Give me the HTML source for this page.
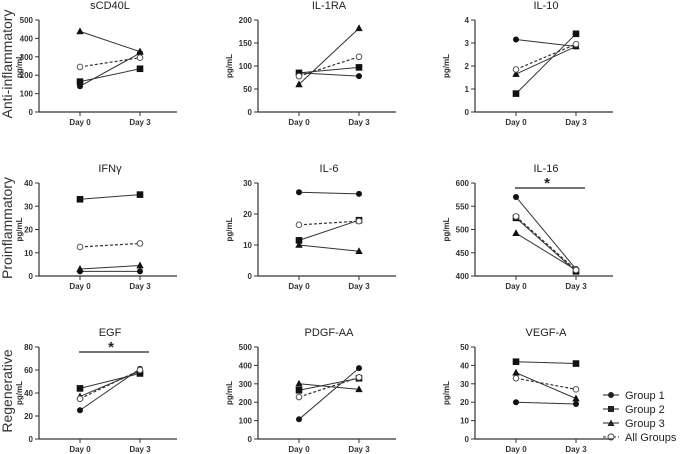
<!DOCTYPE html>
<html><head><meta charset="utf-8"><style>
html,body{margin:0;padding:0;background:#fff;}
svg{display:block;font-family:"Liberation Sans",Arial,sans-serif;}
</style></head><body>
<svg id="s" width="685" height="454" viewBox="0 0 685 454" xmlns="http://www.w3.org/2000/svg">
<g font-size="14" fill="#333">
<text transform="translate(12,64) rotate(-90)" text-anchor="middle">Anti-inflammatory</text>
<text transform="translate(12,228) rotate(-90)" text-anchor="middle">Proinflammatory</text>
<text transform="translate(12,391) rotate(-90)" text-anchor="middle">Regenerative</text>
</g>
<g font-size="11" fill="#222">
<line x1="603" y1="395" x2="619" y2="395" stroke="#222"/><circle cx="611" cy="395" r="3" fill="#222"/><text x="625" y="399">Group 1</text>
<line x1="603" y1="409" x2="619" y2="409" stroke="#222"/><rect x="608" y="406" width="6" height="6" fill="#222"/><text x="625" y="413">Group 2</text>
<line x1="603" y1="423" x2="619" y2="423" stroke="#222"/><polygon points="611,419.5 614.5,426 607.5,426" fill="#222"/><text x="625" y="427">Group 3</text>
<line x1="603" y1="437" x2="619" y2="437" stroke="#222" stroke-dasharray="3,2"/><circle cx="611" cy="437" r="3" fill="#fff" stroke="#444"/><text x="625" y="441">All Groups</text>
</g>
</svg>
<script>
var s=document.getElementById('s'),NS='http://www.w3.org/2000/svg';
function el(t,a,txt){var e=document.createElementNS(NS,t);for(var k in a)e.setAttribute(k,a[k]);if(txt!==undefined)e.textContent=txt;s.appendChild(e);return e;}
var cols=[80,299,516],rows=[[20,112],[183,276],[347,439]];
var P=[
["sCD40L",0,500,100,[[140,320],[165,235],[438,328],[245,295]],0],
["IL-1RA",0,200,50,[[85,78],[85,97],[60,182],[78,120]],0],
["IL-10",0,4,1,[[3.15,2.85],[0.8,3.4],[1.65,2.85],[1.85,2.95]],0],
["IFNγ",0,40,10,[[2,2],[33,35],[3,4.5],[12.5,14]],0],
["IL-6",0,30,10,[[27,26.5],[11.5,18],[10,8],[16.5,17.7]],0],
["IL-16",400,600,50,[[570,415],[525,410],[492,413],[528,413]],1],
["EGF",0,80,20,[[25,61],[44,57],[37,59],[35,60]],1],
["PDGF-AA",0,500,100,[[107,385],[265,330],[300,270],[228,335]],0],
["VEGF-A",0,50,10,[[20,19],[42,41],[36,22],[33,27]],0]];
P.forEach(function(p,i){
 var c=i%3,d0=cols[c],d3=d0+60,ax=d0-41,top=rows[Math.floor(i/3)][0],bot=rows[Math.floor(i/3)][1];
 var Y=function(v){return bot-(v-p[1])/(p[2]-p[1])*(bot-top);};
 el('text',{x:d0+30,y:top-11,'text-anchor':'middle','font-size':11,fill:'#222'},p[0]);
 el('line',{x1:ax,y1:top,x2:ax,y2:bot,stroke:'#333','stroke-width':1.2});
 el('line',{x1:ax,y1:bot,x2:ax+138,y2:bot,stroke:'#333','stroke-width':1.2});
 for(var v=p[1];v<=p[2]+1e-9;v+=p[3]){var y=Y(v);el('line',{x1:ax-4,y1:y,x2:ax,y2:y,stroke:'#333'});
  el('text',{x:ax-6,y:y+3,'text-anchor':'end','font-size':8,'font-weight':'bold',fill:'#333'},String(v));}
 [d0,d3].forEach(function(x,j){el('line',{x1:x,y1:bot,x2:x,y2:bot+4,stroke:'#333'});
  el('text',{x:x,y:bot+13,'text-anchor':'middle','font-size':8,'font-weight':'bold',fill:'#333'},j?'Day 3':'Day 0');});
 var px=c==0?22:ax-26;
 el('text',{transform:'translate('+px+','+((top+bot)/2)+') rotate(-90)','text-anchor':'middle','font-size':8,'font-weight':'bold',fill:'#333'},'pg/mL');
 p[4].forEach(function(g,k){var y0=Y(g[0]),y1=Y(g[1]);
  var a={x1:d0,y1:y0,x2:d3,y2:y1,stroke:'#333','stroke-width':1};if(k==3){a['stroke-dasharray']='3,2';a['stroke-width']=1.2;}
  el('line',a);
  [[d0,y0],[d3,y1]].forEach(function(q){var x=q[0],y=q[1];
   if(k==0)el('circle',{cx:x,cy:y,r:3,fill:'#111'});
   else if(k==1)el('rect',{x:x-3.3,y:y-3.3,width:6.6,height:6.6,fill:'#111'});
   else if(k==2)el('polygon',{points:x+','+(y-4)+' '+(x+3.7)+','+(y+2.8)+' '+(x-3.7)+','+(y+2.8),fill:'#111'});
   else el('circle',{cx:x,cy:y,r:2.8,fill:'#fff',stroke:'#555','stroke-width':1});});});
 if(p[5]){el('line',{x1:d0-1,y1:top+5,x2:d0+69,y2:top+5,stroke:'#222','stroke-width':1.2});
  el('text',{x:d0+31,y:top+5,'text-anchor':'middle','font-size':15,'font-weight':'bold',fill:'#222'},'*');}
});
</script>
</body></html>
